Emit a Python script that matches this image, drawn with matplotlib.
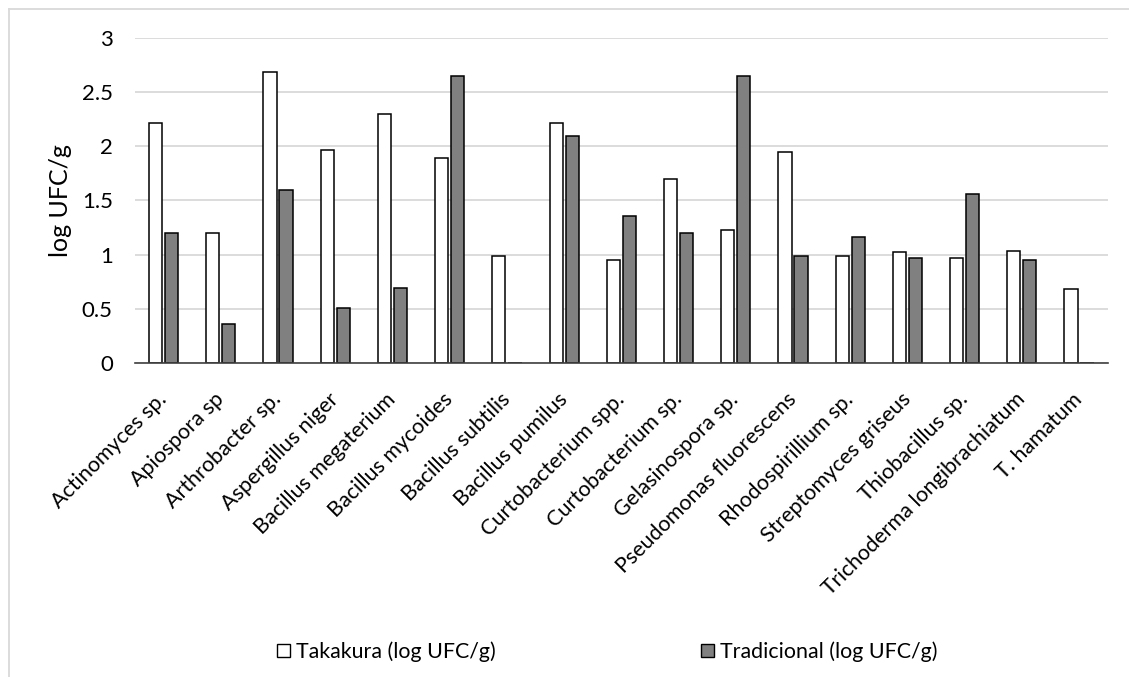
import matplotlib.pyplot as plt
import numpy as np
from matplotlib.lines import Line2D
from matplotlib.patches import Patch

plt.rcParams["font.family"] = ["Lato", "DejaVu Sans"]

# log UFC/g per organism for the two composting methods
organisms = [
    "Actinomyces sp.", "Apiospora sp", "Arthrobacter sp.", "Aspergillus niger",
    "Bacillus megaterium", "Bacillus mycoides", "Bacillus subtilis",
    "Bacillus pumilus", "Curtobacterium spp.", "Curtobacterium sp.",
    "Gelasinospora sp.", "Pseudomonas fluorescens", "Rhodospirillium sp.",
    "Streptomyces griseus", "Thiobacillus sp.", "Trichoderma longibrachiatum",
    "T. hamatum",
]
takakura = [2.21, 1.20, 2.68, 1.96, 2.30, 1.89, 0.99, 2.21, 0.95, 1.70,
            1.23, 1.95, 0.99, 1.02, 0.97, 1.03, 0.68]
tradicional = [1.20, 0.36, 1.60, 0.51, 0.69, 2.65, 0.0, 2.09, 1.36, 1.20,
               2.65, 0.99, 1.16, 0.97, 1.56, 0.95, 0.0]

fig = plt.figure(figsize=(11.29, 6.77), dpi=100)
ax = fig.add_axes([0.1196, 0.4638, 0.8615, 0.4805])

x = np.arange(len(organisms))
w = 0.23
off = 0.025
ax.bar(x - w / 2 - off, takakura, w, color="white", edgecolor="black",
       linewidth=1.1, zorder=3, label="Takakura (log UFC/g)")
ax.bar(x + w / 2 + off, tradicional, w, color="#808080", edgecolor="black",
       linewidth=1.1, zorder=3, label="Tradicional (log UFC/g)")

ax.set_xlim(-0.5, len(organisms) - 0.5)
ax.set_ylim(0, 3)
ax.set_yticks([0, 0.5, 1, 1.5, 2, 2.5, 3])
ax.set_yticklabels(["0", "0.5", "1", "1.5", "2", "2.5", "3"], fontsize=16)
ax.set_xticks(x)
ax.set_xticklabels(organisms, rotation=45, ha="right", va="center",
                   rotation_mode="anchor", fontsize=15.5)
ax.tick_params(axis="y", length=0, pad=16)
ax.tick_params(axis="x", length=0, pad=24)
ax.set_ylabel("log UFC/g", fontsize=18, labelpad=7)

ax.grid(axis="y", color="#d9d9d9", linewidth=1.3, zorder=0)
for side in ["left", "right", "top"]:
    ax.spines[side].set_visible(False)
ax.spines["bottom"].set_color("#404040")
ax.spines["bottom"].set_linewidth(1.2)
ax.spines["bottom"].set_zorder(4)

handles = [
    Patch(facecolor="white", edgecolor="black", linewidth=1.0),
    Patch(facecolor="#808080", edgecolor="black", linewidth=1.0),
]
fig.legend(handles, ["Takakura (log UFC/g)", "Tradicional (log UFC/g)"],
           loc="center", bbox_to_anchor=(0.538, 0.037), ncol=2, frameon=False,
           fontsize=15.4, handlelength=0.6, handleheight=0.6,
           handletextpad=0.3, columnspacing=9.6)

# light chart-area frame along the top and left edges
W, H = 1129, 677
fig.add_artist(Line2D([9 / W, 1], [1 - 9 / H, 1 - 9 / H], color="#d9d9d9",
                      linewidth=1.3, transform=fig.transFigure))
fig.add_artist(Line2D([9 / W, 9 / W], [0, 1 - 9 / H], color="#d9d9d9",
                      linewidth=1.3, transform=fig.transFigure))

fig.savefig("out.png", dpi=100)
